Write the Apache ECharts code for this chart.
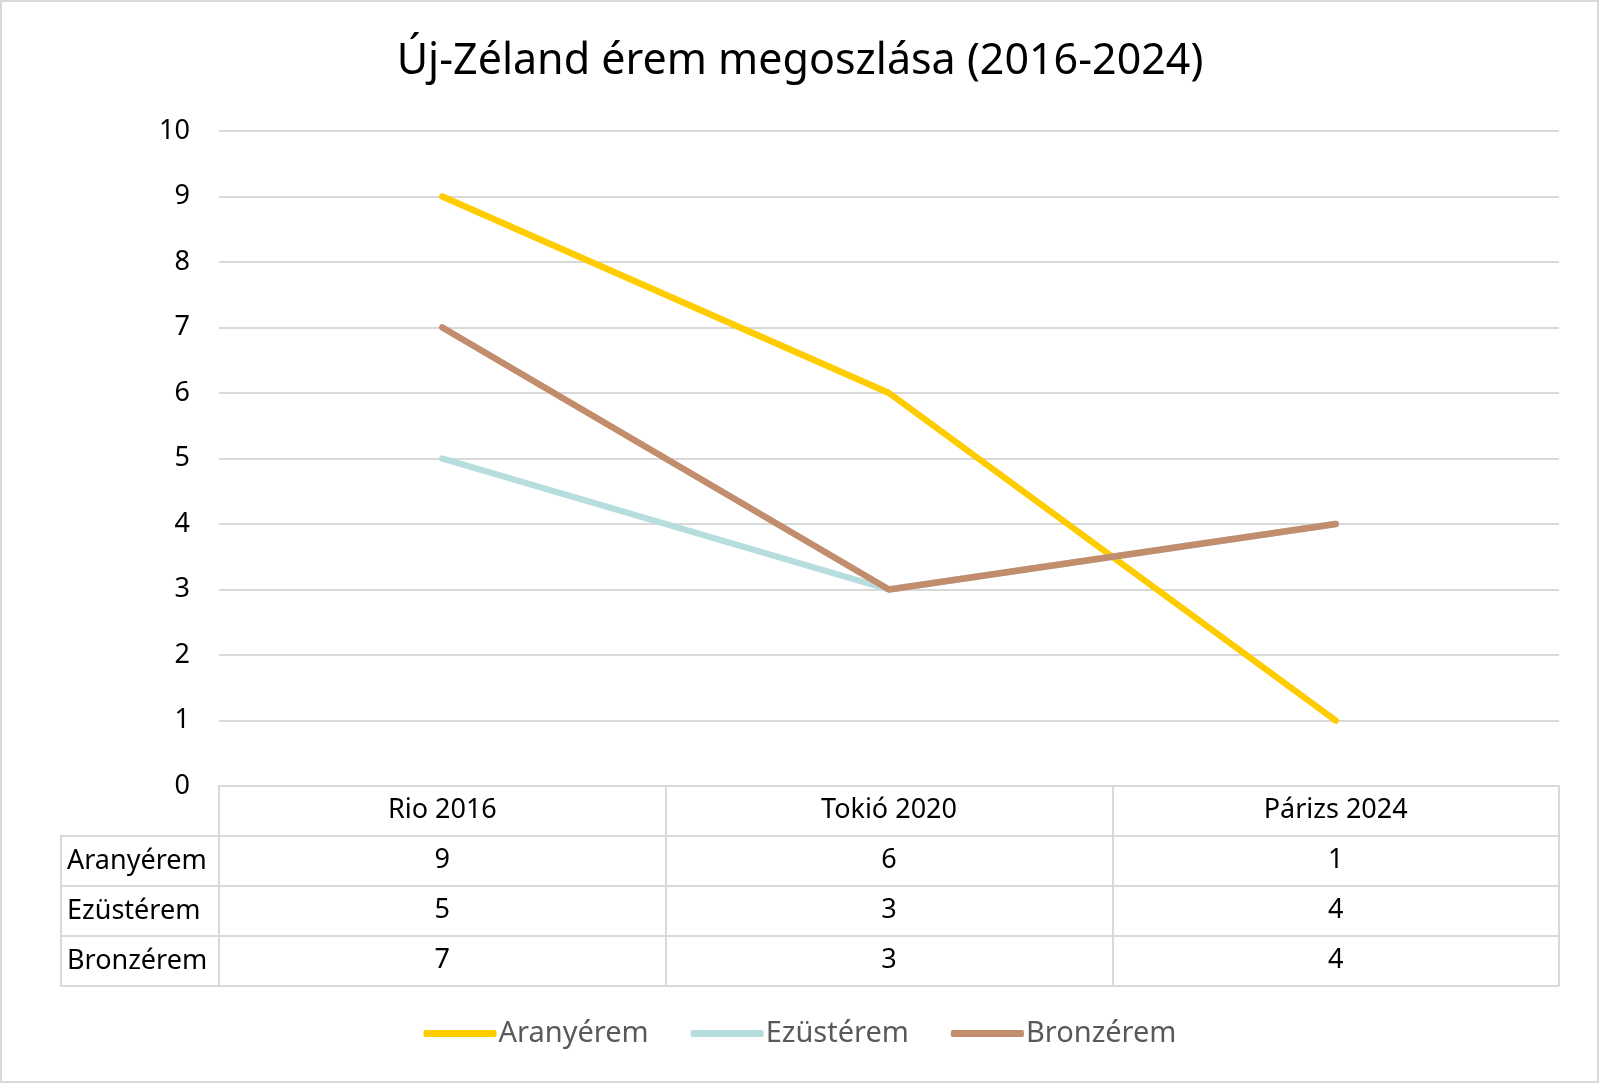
<!DOCTYPE html>
<html>
<head>
<meta charset="utf-8">
<script src="https://cdn.jsdelivr.net/npm/echarts@6/dist/echarts.min.js"></script>
<style>
html, body { margin: 0; padding: 0; background: #fff; }
#main { width: 1600px; height: 1084px; }
</style>
</head>
<body>
<div id="main"></div>
<script>
// adatok
var categories = ["Rio 2016", "Tokió 2020", "Párizs 2024"];
var seriesNames = ["Aranyérem", "Ezüstérem", "Bronzérem"];
var arany = [9, 6, 1];
var ezust = [5, 3, 4];
var bronz = [7, 3, 4];
var colors = ["#FFCC00", "#B7DEDF", "#C28D6C"];

var values = [arany, ezust, bronz];
var fontFam = "'Noto Sans', sans-serif";
var rowH = 50;

var myChart = echarts.init(document.getElementById("main"));

// x tengelyek: az első a kategóriák, a többi a táblázat sorai
var xAxes = [{
    type: "category",
    data: categories,
    boundaryGap: true,
    axisLine: { lineStyle: { color: "#d9d9d9", width: 2 } },
    axisTick: { show: true, length: rowH * 4, lineStyle: { color: "#d9d9d9", width: 2 } },
    axisLabel: { color: "#000", fontSize: 27, fontFamily: fontFam, margin: 11 }
}];
values.forEach(function (vals, i) {
    xAxes.push({
        type: "category",
        data: categories,
        position: "bottom",
        offset: rowH * (i + 1),
        axisLine: { show: false },
        axisTick: { show: false },
        axisLabel: {
            color: "#000", fontSize: 27, fontFamily: fontFam, margin: 11,
            formatter: function (v, idx) { return String(vals[idx]); }
        }
    });
});

var series = seriesNames.map(function (name, i) {
    return {
        name: name,
        type: "line",
        data: values[i],
        symbol: "none",
        lineStyle: { width: 6.5, color: colors[i], cap: "round", join: "round" },
        itemStyle: { color: colors[i] }
    };
});

// táblázat vonalai és sorfejlécek
var axisY = 786;
var graphic = [
    { type: "rect", shape: { x: 1, y: 1, width: 1597, height: 1081 }, style: { fill: "none", stroke: "#d9d9d9", lineWidth: 2 } }
];
[1, 2, 3, 4].forEach(function (k) {
    var y = axisY + rowH * k;
    graphic.push({ type: "line", shape: { x1: 60, y1: y, x2: 1559, y2: y }, style: { stroke: "#d9d9d9", lineWidth: 2 } });
});
graphic.push({ type: "line", shape: { x1: 61, y1: axisY + rowH, x2: 61, y2: axisY + rowH * 4 }, style: { stroke: "#d9d9d9", lineWidth: 2 } });
seriesNames.forEach(function (name, i) {
    graphic.push({
        type: "text",
        style: {
            x: 67, y: axisY + rowH * (i + 1.5), text: name,
            fontSize: 27, fontFamily: fontFam, fill: "#000", verticalAlign: "middle"
        }
    });
});

var option = {
    backgroundColor: "#fff",
    title: {
        text: "Új-Zéland érem megoszlása (2016-2024)",
        left: "center",
        top: 35,
        textStyle: { fontSize: 43, fontWeight: "normal", color: "#000", fontFamily: fontFam }
    },
    grid: { left: 219, right: 41, top: 131, bottom: 298, containLabel: false },
    legend: {
        data: seriesNames,
        bottom: 31,
        left: "center",
        icon: "roundRect",
        itemWidth: 73,
        itemHeight: 7,
        itemGap: 42,
        textStyle: { fontSize: 29, color: "#595959", fontFamily: fontFam, padding: [0, 0, 0, -3] }
    },
    xAxis: xAxes,
    yAxis: {
        type: "value",
        min: 0,
        max: 10,
        interval: 1,
        axisLine: { show: false },
        axisTick: { show: false },
        splitLine: { lineStyle: { color: "#d9d9d9", width: 2 } },
        axisLabel: { color: "#000", fontSize: 27, fontFamily: fontFam, margin: 29 }
    },
    graphic: graphic,
    series: series
};

myChart.setOption(option, true);
</script>
</body>
</html>
